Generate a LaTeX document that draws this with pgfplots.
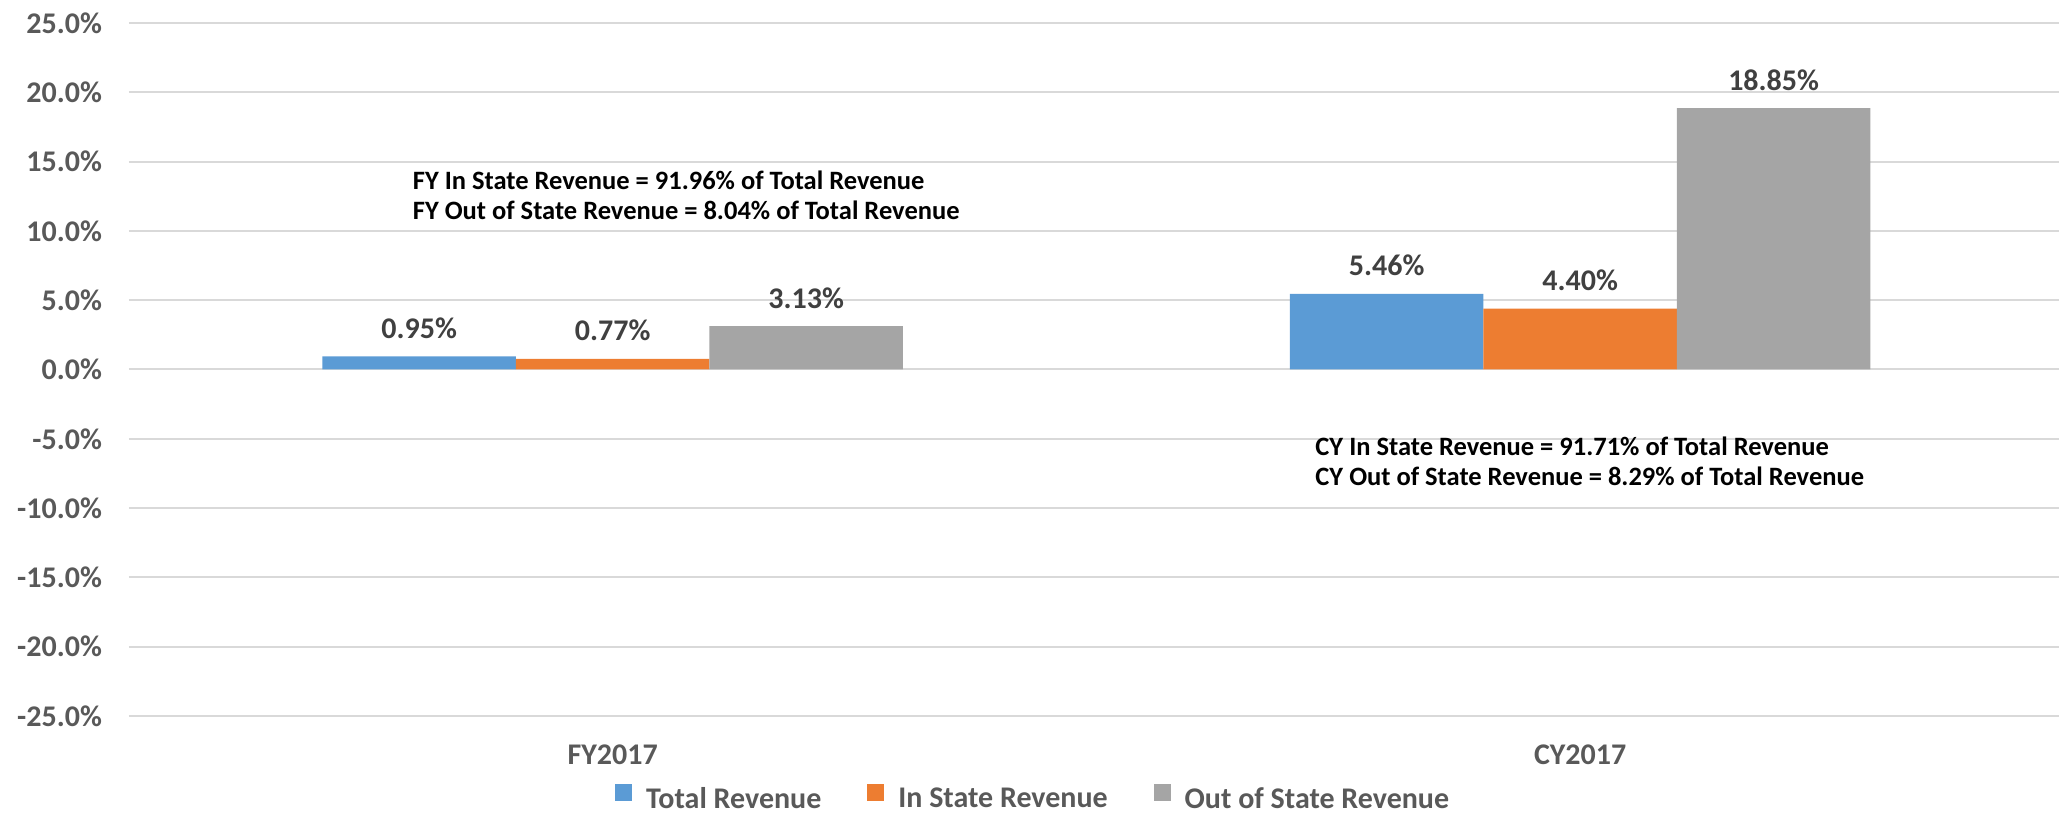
\documentclass[border=0pt]{standalone}
\usepackage{fontspec}
\setmainfont{Carlito}
\usepackage{pgfplots}
\pgfplotsset{compat=1.18}

\definecolor{cblue}{HTML}{5B9BD5}
\definecolor{corange}{HTML}{ED7D31}
\definecolor{cgray}{HTML}{A5A5A5}
\definecolor{gridgray}{HTML}{D9D9D9}
\definecolor{tickgray}{HTML}{595959}
\definecolor{labelgray}{HTML}{404040}

\newcommand{\bigbf}{\fontsize{15}{18}\selectfont\bfseries}
\newcommand{\notebf}{\fontsize{13.25}{15}\selectfont\bfseries}

\begin{document}
\begin{tikzpicture}
\begin{axis}[
    scale only axis,
    width=965pt, height=346.5pt,
    xmin=-0.5, xmax=1.495,
    ymin=-25, ymax=25,
    xtick={0,1}, xticklabels={FY2017,CY2017},
    ytick={-25,-20,...,25},
    yticklabels={-25.0\%,-20.0\%,-15.0\%,-10.0\%,-5.0\%,0.0\%,5.0\%,10.0\%,15.0\%,20.0\%,25.0\%},
    axis line style={draw=none},
    major tick length=0pt,
    ymajorgrids,
    grid style={line width=1pt, color=gridgray},
    ticklabel style={font=\bigbf, text=tickgray},
    yticklabel style={xshift=-10pt},
    xticklabel style={yshift=-11pt},
    ybar=0pt, bar width=0.2,
    /pgf/number format/assume math mode=true,
    nodes near coords={\pgfmathprintnumber[fixed,fixed zerofill,precision=2]{\pgfplotspointmeta}\%},
    every node near coord/.append style={font=\bigbf, text=labelgray, anchor=base, yshift=9pt},
    legend columns=3,
    legend style={draw=none, fill=none, at={(0.469,-0.1205)}, anchor=center,
        font=\bigbf, text=tickgray,
        /tikz/every odd column/.append style={column sep=5pt},
        /tikz/every even column/.append style={column sep=21pt}},
    legend image code/.code={\fill[#1] (0pt,-0.5pt) rectangle (8.5pt,8pt);},
]
\addplot[fill=cblue, draw=none, bar shift=-0.2] coordinates {(0,0.95) (1,5.46)};
\addplot[fill=corange, draw=none, bar shift=0] coordinates {(0,0.77) (1,4.40)};
\addplot[fill=cgray, draw=none, bar shift=0.2] coordinates {(0,3.13) (1,18.85)};
\legend{Total Revenue, In State Revenue, Out of State Revenue}

\node[anchor=base west, inner sep=0pt, font=\notebf] at (axis cs:-0.207,13.0) {FY In State Revenue = 91.96\% of Total Revenue};
\node[anchor=base west, inner sep=0pt, font=\notebf] at (axis cs:-0.207,10.82) {FY Out of State Revenue = 8.04\% of Total Revenue};
\node[anchor=base west, inner sep=0pt, font=\notebf] at (axis cs:0.726,-6.2) {CY In State Revenue = 91.71\% of Total Revenue};
\node[anchor=base west, inner sep=0pt, font=\notebf] at (axis cs:0.726,-8.37) {CY Out of State Revenue = 8.29\% of Total Revenue};
\end{axis}
\pgfresetboundingbox
\useasboundingbox (-64.5pt,-48.5pt) rectangle (965pt,358pt);
\end{tikzpicture}
\end{document}
